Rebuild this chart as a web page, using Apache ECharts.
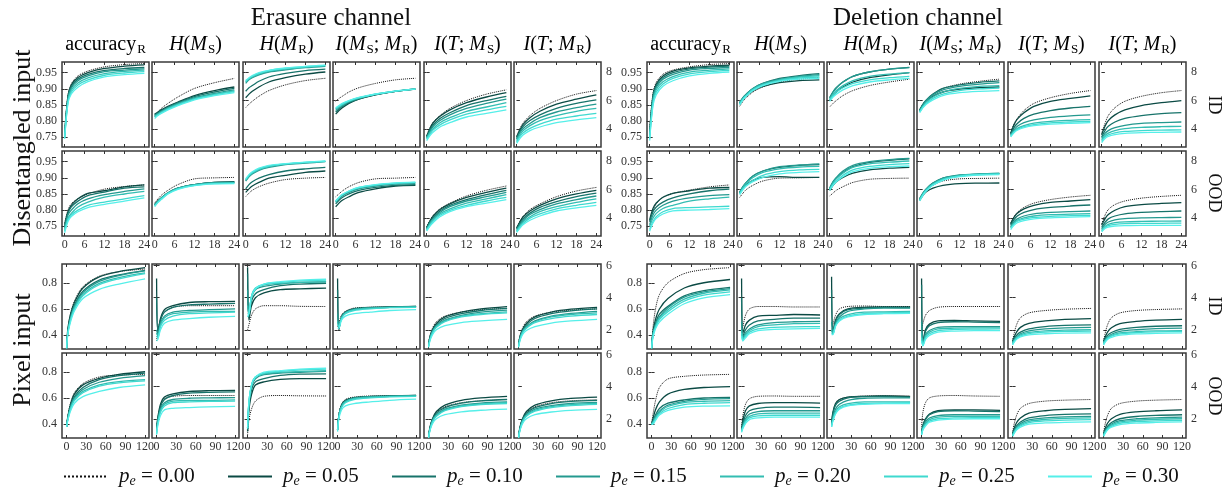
<!DOCTYPE html>
<html>
<head>
<meta charset="utf-8">
<script src="https://cdn.jsdelivr.net/npm/echarts@6/dist/echarts.min.js"></script>
<style>
  html, body { margin: 0; padding: 0; background: #fff; }
  #chart { width: 1227px; height: 490px; }
</style>
</head>
<body>
<div id="chart"></div>
<script>
// x positions of the sampled points
const xDis = [0, 1, 2, 4, 7, 12, 18, 24];
const xPix = [0, 2, 6, 12, 25, 50, 80, 120];
const xTicksDis = [0, 6, 12, 18, 24];
const xTicksPix = [0, 30, 60, 90, 120];

const peNames = ['0.00', '0.05', '0.10', '0.15', '0.20', '0.25', '0.30'];
const colors = ['#111111', '#0b4a44', '#17736a', '#24998f', '#33bdb2', '#3fd9cf', '#55efe9'];

// ---- Erasure, disentangled, ID ----
const era_dis_id_acc = [
  [0.76, 0.88, 0.915, 0.94, 0.955, 0.968, 0.975, 0.978],
  [0.76, 0.878, 0.912, 0.935, 0.95, 0.963, 0.97, 0.974],
  [0.755, 0.874, 0.907, 0.93, 0.945, 0.957, 0.963, 0.966],
  [0.752, 0.87, 0.902, 0.925, 0.94, 0.953, 0.958, 0.962],
  [0.75, 0.865, 0.896, 0.918, 0.934, 0.947, 0.954, 0.958],
  [0.748, 0.86, 0.89, 0.912, 0.928, 0.942, 0.949, 0.953],
  [0.745, 0.855, 0.884, 0.905, 0.922, 0.937, 0.944, 0.948]
];
const era_dis_id_hs = [
  [4.9, 5.2, 5.45, 5.8, 6.25, 6.85, 7.25, 7.55],
  [5.05, 5.2, 5.35, 5.6, 5.9, 6.35, 6.7, 6.95],
  [5.0, 5.15, 5.3, 5.55, 5.85, 6.28, 6.6, 6.85],
  [4.95, 5.1, 5.25, 5.5, 5.8, 6.2, 6.5, 6.75],
  [4.9, 5.05, 5.2, 5.45, 5.75, 6.15, 6.45, 6.68],
  [4.85, 5.0, 5.15, 5.4, 5.7, 6.1, 6.4, 6.62],
  [4.75, 4.95, 5.1, 5.35, 5.65, 6.05, 6.35, 6.56]
];
const era_dis_id_hr = [
  [5.5, 5.75, 5.95, 6.3, 6.7, 7.1, 7.4, 7.56],
  [6.2, 6.45, 6.65, 6.95, 7.3, 7.6, 7.85, 8.0],
  [6.65, 6.9, 7.05, 7.35, 7.65, 7.9, 8.1, 8.2],
  [7.2, 7.45, 7.6, 7.8, 8.0, 8.15, 8.3, 8.4],
  [7.3, 7.5, 7.65, 7.85, 8.05, 8.2, 8.33, 8.43],
  [7.35, 7.55, 7.7, 7.9, 8.1, 8.25, 8.37, 8.46],
  [7.4, 7.6, 7.75, 7.95, 8.12, 8.28, 8.4, 8.48]
];
const era_dis_id_ims = [
  [5.95, 6.15, 6.3, 6.6, 6.9, 7.2, 7.45, 7.56],
  [5.05, 5.3, 5.5, 5.8, 6.1, 6.4, 6.65, 6.8],
  [5.2, 5.4, 5.58, 5.85, 6.12, 6.42, 6.65, 6.8],
  [5.3, 5.48, 5.63, 5.9, 6.15, 6.43, 6.65, 6.82],
  [5.4, 5.55, 5.7, 5.95, 6.18, 6.45, 6.66, 6.8],
  [5.45, 5.6, 5.75, 5.98, 6.2, 6.45, 6.66, 6.8],
  [5.5, 5.65, 5.8, 6.0, 6.22, 6.46, 6.66, 6.8]
];
const era_dis_id_its = [
  [3.55, 4.1, 4.5, 4.95, 5.45, 6.0, 6.45, 6.75],
  [3.5, 4.05, 4.45, 4.9, 5.35, 5.85, 6.25, 6.55],
  [3.45, 3.95, 4.3, 4.75, 5.15, 5.65, 6.0, 6.3],
  [3.4, 3.85, 4.2, 4.6, 5.0, 5.45, 5.8, 6.1],
  [3.35, 3.75, 4.05, 4.45, 4.8, 5.25, 5.55, 5.85],
  [3.3, 3.65, 3.95, 4.3, 4.65, 5.05, 5.35, 5.6],
  [3.2, 3.55, 3.8, 4.15, 4.45, 4.85, 5.1, 5.35]
];
const era_dis_id_itr = [
  [3.5, 4.05, 4.45, 4.95, 5.45, 6.0, 6.45, 6.7],
  [3.45, 3.95, 4.35, 4.8, 5.25, 5.75, 6.1, 6.4],
  [3.35, 3.85, 4.2, 4.6, 5.0, 5.45, 5.8, 6.05],
  [3.3, 3.75, 4.05, 4.4, 4.8, 5.2, 5.5, 5.75],
  [3.2, 3.6, 3.9, 4.25, 4.6, 4.95, 5.25, 5.45],
  [3.1, 3.5, 3.75, 4.05, 4.35, 4.7, 4.92, 5.1],
  [3.0, 3.35, 3.6, 3.9, 4.15, 4.45, 4.65, 4.8]
];

// ---- Erasure, disentangled, OOD ----
const era_dis_ood_acc = [
  [0.76, 0.8, 0.82, 0.835, 0.85, 0.865, 0.873, 0.878],
  [0.755, 0.795, 0.815, 0.835, 0.852, 0.86, 0.872, 0.878],
  [0.75, 0.79, 0.81, 0.828, 0.845, 0.856, 0.868, 0.872],
  [0.745, 0.785, 0.8, 0.82, 0.835, 0.848, 0.858, 0.866],
  [0.74, 0.775, 0.79, 0.81, 0.825, 0.84, 0.85, 0.858],
  [0.735, 0.77, 0.785, 0.8, 0.815, 0.825, 0.835, 0.845],
  [0.73, 0.765, 0.78, 0.795, 0.808, 0.818, 0.828, 0.838]
];
const era_dis_ood_hs = [
  [5.05, 5.35, 5.6, 5.95, 6.35, 6.75, 6.82, 6.85],
  [4.95, 5.2, 5.4, 5.75, 6.1, 6.35, 6.5, 6.55],
  [4.95, 5.2, 5.4, 5.75, 6.1, 6.35, 6.5, 6.52],
  [4.95, 5.2, 5.42, 5.78, 6.1, 6.35, 6.48, 6.5],
  [4.9, 5.15, 5.38, 5.75, 6.08, 6.33, 6.45, 6.48],
  [4.85, 5.12, 5.35, 5.72, 6.05, 6.3, 6.42, 6.45],
  [4.8, 5.1, 5.3, 5.7, 6.02, 6.28, 6.4, 6.42]
];
const era_dis_ood_hr = [
  [5.5, 5.75, 5.95, 6.2, 6.45, 6.7, 6.8, 6.85],
  [5.8, 6.05, 6.25, 6.5, 6.8, 7.0, 7.2, 7.3],
  [6.05, 6.35, 6.55, 6.8, 7.05, 7.3, 7.45, 7.55],
  [6.6, 6.9, 7.1, 7.35, 7.55, 7.75, 7.85, 7.95],
  [6.65, 6.95, 7.15, 7.4, 7.6, 7.78, 7.88, 7.97],
  [6.7, 7.0, 7.2, 7.45, 7.65, 7.8, 7.9, 7.98],
  [6.75, 7.05, 7.25, 7.5, 7.7, 7.82, 7.92, 8.0]
];
const era_dis_ood_ims = [
  [5.5, 5.7, 5.9, 6.2, 6.5, 6.75, 6.8, 6.85],
  [4.8, 5.05, 5.25, 5.5, 5.8, 6.05, 6.25, 6.3],
  [5.0, 5.25, 5.45, 5.7, 5.95, 6.15, 6.3, 6.35],
  [5.1, 5.35, 5.55, 5.8, 6.05, 6.25, 6.38, 6.42],
  [5.15, 5.4, 5.6, 5.85, 6.1, 6.3, 6.42, 6.48],
  [5.2, 5.45, 5.65, 5.9, 6.15, 6.33, 6.45, 6.5],
  [5.2, 5.45, 5.65, 5.9, 6.15, 6.35, 6.47, 6.52]
];
const era_dis_ood_its = [
  [3.4, 3.85, 4.2, 4.65, 5.05, 5.55, 5.95, 6.25],
  [3.35, 3.8, 4.15, 4.6, 5.0, 5.45, 5.8, 6.1],
  [3.3, 3.75, 4.05, 4.5, 4.9, 5.3, 5.65, 5.95],
  [3.25, 3.65, 3.95, 4.4, 4.8, 5.2, 5.5, 5.8],
  [3.2, 3.6, 3.9, 4.3, 4.65, 5.05, 5.35, 5.65],
  [3.15, 3.5, 3.8, 4.2, 4.55, 4.9, 5.2, 5.45],
  [3.1, 3.45, 3.7, 4.1, 4.45, 4.8, 5.05, 5.3]
];
const era_dis_ood_itr = [
  [3.35, 3.8, 4.15, 4.6, 5.0, 5.5, 5.9, 6.15],
  [3.3, 3.75, 4.1, 4.5, 4.9, 5.35, 5.7, 5.95],
  [3.25, 3.65, 3.95, 4.35, 4.75, 5.15, 5.5, 5.75],
  [3.2, 3.55, 3.85, 4.25, 4.6, 5.0, 5.3, 5.55],
  [3.1, 3.45, 3.75, 4.1, 4.45, 4.8, 5.1, 5.35],
  [3.05, 3.4, 3.65, 4.0, 4.3, 4.65, 4.9, 5.1],
  [3.0, 3.3, 3.55, 3.85, 4.15, 4.5, 4.72, 4.9]
];

// ---- Erasure, pixel, ID ----
const era_pix_id_acc = [
  [0.3, 0.44, 0.56, 0.66, 0.77, 0.85, 0.885, 0.905],
  [0.3, 0.45, 0.56, 0.65, 0.76, 0.845, 0.885, 0.915],
  [0.3, 0.43, 0.54, 0.63, 0.735, 0.82, 0.86, 0.895],
  [0.3, 0.43, 0.53, 0.62, 0.725, 0.81, 0.855, 0.89],
  [0.3, 0.42, 0.52, 0.61, 0.71, 0.795, 0.84, 0.875],
  [0.3, 0.42, 0.515, 0.6, 0.70, 0.785, 0.83, 0.87],
  [0.3, 0.41, 0.5, 0.585, 0.68, 0.75, 0.79, 0.83]
];
const era_pix_id_hs = [
  [1.3, 1.9, 2.6, 3.1, 3.4, 3.5, 3.5, 3.5],
  [5.2, 1.8, 2.7, 3.25, 3.5, 3.7, 3.75, 3.77],
  [4.0, 1.9, 2.6, 3.1, 3.4, 3.55, 3.6, 3.65],
  [2.0, 1.7, 2.4, 2.85, 3.1, 3.2, 3.25, 3.3],
  [1.8, 1.6, 2.3, 2.75, 3.0, 3.1, 3.15, 3.15],
  [1.6, 1.5, 2.2, 2.6, 2.85, 3.0, 3.05, 3.1],
  [1.3, 1.4, 2.0, 2.4, 2.6, 2.7, 2.78, 2.83]
];
const era_pix_id_hr = [
  [2.0, 2.3, 2.9, 3.3, 3.5, 3.5, 3.46, 3.45],
  [5.9, 2.6, 3.5, 4.0, 4.3, 4.5, 4.55, 4.6],
  [5.5, 2.8, 3.8, 4.25, 4.5, 4.75, 4.85, 4.9],
  [4.5, 3.0, 4.0, 4.5, 4.7, 4.85, 4.95, 4.98],
  [3.5, 3.0, 4.1, 4.55, 4.8, 4.9, 4.95, 5.0],
  [3.0, 3.0, 4.1, 4.6, 4.85, 4.95, 5.05, 5.1],
  [2.8, 3.0, 4.05, 4.55, 4.85, 5.0, 5.1, 5.15]
];
const era_pix_id_ims = [
  [2.2, 2.4, 2.9, 3.15, 3.35, 3.4, 3.42, 3.45],
  [5.2, 2.0, 2.8, 3.1, 3.3, 3.4, 3.42, 3.45],
  [4.5, 2.1, 2.8, 3.1, 3.3, 3.38, 3.42, 3.45],
  [3.0, 2.1, 2.75, 3.05, 3.25, 3.35, 3.4, 3.42],
  [2.5, 2.2, 2.75, 3.05, 3.25, 3.35, 3.4, 3.42],
  [2.3, 2.2, 2.7, 3.0, 3.2, 3.3, 3.38, 3.4],
  [2.1, 2.1, 2.6, 2.85, 3.0, 3.1, 3.2, 3.25]
];
const era_pix_id_its = [
  [1.1, 1.6, 2.1, 2.5, 2.85, 3.1, 3.25, 3.33],
  [1.05, 1.55, 2.0, 2.4, 2.8, 3.1, 3.3, 3.44],
  [1.05, 1.5, 1.95, 2.3, 2.7, 3.0, 3.2, 3.33],
  [1.0, 1.45, 1.9, 2.25, 2.6, 2.9, 3.1, 3.22],
  [1.0, 1.4, 1.85, 2.2, 2.55, 2.85, 3.0, 3.12],
  [0.95, 1.35, 1.8, 2.15, 2.5, 2.8, 2.95, 3.05],
  [0.9, 1.3, 1.7, 2.0, 2.25, 2.45, 2.55, 2.65]
];
const era_pix_id_itr = [
  [1.1, 1.6, 2.1, 2.5, 2.85, 3.1, 3.22, 3.3],
  [1.05, 1.55, 2.0, 2.4, 2.8, 3.1, 3.28, 3.4],
  [1.05, 1.5, 1.95, 2.3, 2.7, 3.0, 3.18, 3.3],
  [1.0, 1.45, 1.9, 2.2, 2.55, 2.85, 3.02, 3.15],
  [1.0, 1.4, 1.85, 2.15, 2.5, 2.8, 2.95, 3.05],
  [0.95, 1.35, 1.8, 2.1, 2.45, 2.7, 2.85, 2.95],
  [0.9, 1.3, 1.7, 1.95, 2.2, 2.42, 2.55, 2.65]
];

// ---- Erasure, pixel, OOD ----
const era_pix_ood_acc = [
  [0.38, 0.46, 0.56, 0.64, 0.71, 0.76, 0.775, 0.78],
  [0.38, 0.46, 0.55, 0.63, 0.70, 0.75, 0.78, 0.80],
  [0.38, 0.45, 0.54, 0.61, 0.68, 0.74, 0.77, 0.79],
  [0.38, 0.45, 0.53, 0.60, 0.665, 0.72, 0.75, 0.77],
  [0.38, 0.44, 0.52, 0.59, 0.65, 0.70, 0.725, 0.74],
  [0.38, 0.44, 0.515, 0.58, 0.64, 0.69, 0.715, 0.73],
  [0.38, 0.43, 0.50, 0.56, 0.61, 0.65, 0.68, 0.70]
];
const era_pix_ood_hs = [
  [1.3, 2.0, 2.8, 3.25, 3.4, 3.45, 3.45, 3.45],
  [1.4, 2.1, 2.9, 3.35, 3.55, 3.7, 3.75, 3.77],
  [1.3, 2.0, 2.75, 3.2, 3.45, 3.6, 3.65, 3.67],
  [1.2, 1.9, 2.6, 3.0, 3.2, 3.28, 3.3, 3.32],
  [1.1, 1.8, 2.5, 2.9, 3.1, 3.15, 3.15, 3.18],
  [1.05, 1.75, 2.4, 2.8, 3.0, 3.05, 3.08, 3.1],
  [1.0, 1.6, 2.2, 2.55, 2.65, 2.7, 2.74, 2.77]
];
const era_pix_ood_hr = [
  [1.0, 1.9, 2.6, 3.1, 3.4, 3.45, 3.43, 3.42],
  [1.2, 2.5, 3.5, 4.1, 4.3, 4.45, 4.5, 4.5],
  [1.3, 2.7, 3.8, 4.3, 4.5, 4.7, 4.78, 4.8],
  [1.4, 2.9, 4.0, 4.5, 4.75, 4.85, 4.9, 4.95],
  [1.4, 3.0, 4.1, 4.6, 4.8, 4.9, 4.95, 5.0],
  [1.4, 3.0, 4.1, 4.6, 4.85, 4.95, 5.05, 5.1],
  [1.4, 3.0, 4.1, 4.6, 4.9, 5.0, 5.1, 5.15]
];
const era_pix_ood_ims = [
  [1.5, 2.3, 2.9, 3.2, 3.35, 3.42, 3.43, 3.45],
  [1.3, 2.2, 2.85, 3.15, 3.3, 3.4, 3.42, 3.45],
  [1.3, 2.2, 2.8, 3.1, 3.3, 3.38, 3.42, 3.45],
  [1.3, 2.2, 2.8, 3.1, 3.28, 3.36, 3.4, 3.42],
  [1.3, 2.15, 2.75, 3.05, 3.25, 3.35, 3.4, 3.42],
  [1.3, 2.1, 2.7, 3.0, 3.2, 3.3, 3.36, 3.4],
  [1.2, 2.0, 2.55, 2.8, 2.95, 3.05, 3.15, 3.22]
];
const era_pix_ood_its = [
  [0.9, 1.45, 2.0, 2.4, 2.75, 3.0, 3.12, 3.2],
  [0.9, 1.45, 2.0, 2.45, 2.85, 3.15, 3.3, 3.4],
  [0.9, 1.4, 1.95, 2.35, 2.7, 2.98, 3.12, 3.2],
  [0.85, 1.35, 1.9, 2.25, 2.6, 2.85, 2.98, 3.05],
  [0.85, 1.3, 1.85, 2.2, 2.55, 2.8, 2.92, 3.0],
  [0.85, 1.3, 1.8, 2.15, 2.5, 2.75, 2.88, 2.95],
  [0.8, 1.25, 1.7, 2.0, 2.25, 2.43, 2.53, 2.6]
];
const era_pix_ood_itr = [
  [0.9, 1.45, 2.0, 2.4, 2.75, 3.0, 3.12, 3.18],
  [0.9, 1.45, 2.0, 2.45, 2.85, 3.12, 3.27, 3.35],
  [0.9, 1.4, 1.95, 2.35, 2.7, 2.95, 3.08, 3.15],
  [0.85, 1.35, 1.9, 2.25, 2.6, 2.82, 2.95, 3.02],
  [0.85, 1.3, 1.85, 2.2, 2.52, 2.75, 2.88, 2.95],
  [0.85, 1.3, 1.8, 2.15, 2.47, 2.7, 2.82, 2.9],
  [0.8, 1.25, 1.7, 2.0, 2.25, 2.42, 2.52, 2.58]
];

// ---- Deletion, disentangled, ID ----
const del_dis_id_acc = [
  [0.77, 0.885, 0.92, 0.945, 0.958, 0.968, 0.975, 0.978],
  [0.765, 0.88, 0.915, 0.94, 0.955, 0.965, 0.97, 0.973],
  [0.76, 0.875, 0.91, 0.935, 0.95, 0.962, 0.967, 0.97],
  [0.755, 0.87, 0.905, 0.93, 0.945, 0.958, 0.963, 0.966],
  [0.75, 0.862, 0.898, 0.922, 0.938, 0.952, 0.958, 0.962],
  [0.745, 0.855, 0.89, 0.915, 0.932, 0.946, 0.953, 0.957],
  [0.74, 0.848, 0.882, 0.908, 0.925, 0.94, 0.948, 0.952]
];
const del_dis_id_hs = [
  [5.6, 5.95, 6.2, 6.6, 6.95, 7.3, 7.5, 7.6],
  [5.8, 6.1, 6.35, 6.7, 7.0, 7.25, 7.4, 7.45],
  [5.85, 6.2, 6.45, 6.85, 7.2, 7.55, 7.75, 7.88],
  [5.85, 6.2, 6.45, 6.85, 7.2, 7.5, 7.7, 7.82],
  [5.8, 6.15, 6.4, 6.8, 7.15, 7.45, 7.65, 7.75],
  [5.75, 6.1, 6.35, 6.75, 7.1, 7.4, 7.58, 7.65],
  [5.7, 6.05, 6.3, 6.7, 7.05, 7.35, 7.5, 7.55]
];
const del_dis_id_hr = [
  [5.55, 5.8, 6.0, 6.35, 6.7, 7.05, 7.3, 7.5],
  [6.0, 6.35, 6.6, 6.95, 7.3, 7.6, 7.8, 7.95],
  [6.2, 6.6, 6.9, 7.3, 7.7, 8.0, 8.2, 8.33],
  [6.2, 6.6, 6.9, 7.3, 7.7, 8.0, 8.2, 8.3],
  [6.1, 6.45, 6.7, 7.05, 7.4, 7.7, 7.85, 7.95],
  [6.05, 6.35, 6.6, 6.9, 7.2, 7.45, 7.6, 7.7],
  [5.95, 6.25, 6.45, 6.75, 7.05, 7.3, 7.45, 7.55]
];
const del_dis_id_ims = [
  [5.35, 5.75, 6.05, 6.45, 6.85, 7.15, 7.35, 7.5],
  [5.3, 5.7, 5.95, 6.3, 6.6, 6.8, 6.9, 6.95],
  [5.35, 5.75, 6.05, 6.45, 6.85, 7.1, 7.28, 7.38],
  [5.3, 5.7, 6.0, 6.4, 6.75, 7.0, 7.15, 7.25],
  [5.25, 5.6, 5.9, 6.25, 6.6, 6.85, 7.0, 7.05],
  [5.2, 5.55, 5.8, 6.15, 6.45, 6.7, 6.82, 6.88],
  [5.15, 5.5, 5.75, 6.05, 6.35, 6.55, 6.65, 6.7]
];
const del_dis_id_its = [
  [3.75, 4.35, 4.75, 5.3, 5.8, 6.2, 6.5, 6.7],
  [3.7, 4.3, 4.7, 5.15, 5.6, 5.95, 6.15, 6.33],
  [3.65, 4.1, 4.4, 4.75, 5.05, 5.3, 5.48, 5.6],
  [3.6, 3.95, 4.2, 4.45, 4.65, 4.82, 4.93, 5.0],
  [3.55, 3.85, 4.05, 4.25, 4.42, 4.55, 4.62, 4.67],
  [3.5, 3.8, 3.98, 4.17, 4.32, 4.44, 4.5, 4.55],
  [3.45, 3.75, 3.92, 4.1, 4.24, 4.35, 4.41, 4.45]
];
const del_dis_id_itr = [
  [3.7, 4.4, 4.95, 5.5, 5.95, 6.3, 6.55, 6.7],
  [3.6, 4.2, 4.6, 5.0, 5.35, 5.65, 5.85, 6.0],
  [3.45, 3.9, 4.2, 4.5, 4.75, 4.95, 5.08, 5.15],
  [3.35, 3.7, 3.9, 4.1, 4.27, 4.4, 4.46, 4.5],
  [3.25, 3.55, 3.72, 3.9, 4.03, 4.12, 4.17, 4.2],
  [3.15, 3.45, 3.6, 3.74, 3.84, 3.9, 3.93, 3.95],
  [3.05, 3.35, 3.5, 3.62, 3.7, 3.75, 3.78, 3.8]
];

// ---- Deletion, disentangled, OOD ----
const del_dis_ood_acc = [
  [0.765, 0.8, 0.82, 0.84, 0.852, 0.862, 0.872, 0.878],
  [0.77, 0.805, 0.822, 0.84, 0.852, 0.86, 0.868, 0.87],
  [0.765, 0.795, 0.81, 0.825, 0.838, 0.85, 0.86, 0.865],
  [0.755, 0.785, 0.8, 0.815, 0.828, 0.838, 0.845, 0.848],
  [0.75, 0.775, 0.79, 0.805, 0.815, 0.828, 0.835, 0.84],
  [0.74, 0.765, 0.78, 0.795, 0.805, 0.808, 0.81, 0.812],
  [0.735, 0.76, 0.775, 0.788, 0.798, 0.8, 0.802, 0.805]
];
const del_dis_ood_hs = [
  [5.45, 5.75, 6.0, 6.3, 6.6, 6.8, 6.82, 6.85],
  [5.75, 6.1, 6.35, 6.65, 6.85, 6.9, 6.85, 6.85],
  [5.8, 6.2, 6.5, 6.95, 7.3, 7.55, 7.7, 7.75],
  [5.8, 6.2, 6.5, 6.95, 7.3, 7.6, 7.72, 7.8],
  [5.75, 6.15, 6.45, 6.85, 7.2, 7.45, 7.58, 7.62],
  [5.7, 6.05, 6.3, 6.65, 7.0, 7.25, 7.38, 7.42],
  [5.65, 6.0, 6.25, 6.55, 6.85, 7.1, 7.2, 7.25]
];
const del_dis_ood_hr = [
  [5.55, 5.75, 5.95, 6.2, 6.5, 6.72, 6.78, 6.8],
  [5.95, 6.3, 6.55, 6.85, 7.15, 7.38, 7.5, 7.56],
  [6.05, 6.5, 6.8, 7.2, 7.6, 7.9, 8.05, 8.15],
  [6.1, 6.55, 6.85, 7.3, 7.7, 7.95, 8.1, 8.18],
  [6.05, 6.45, 6.75, 7.15, 7.55, 7.8, 7.92, 8.0],
  [6.0, 6.35, 6.6, 7.0, 7.38, 7.62, 7.75, 7.82],
  [5.95, 6.3, 6.55, 6.9, 7.25, 7.48, 7.6, 7.65]
];
const del_dis_ood_ims = [
  [5.3, 5.7, 5.95, 6.3, 6.6, 6.75, 6.78, 6.8],
  [5.25, 5.6, 5.85, 6.1, 6.3, 6.42, 6.45, 6.46],
  [5.35, 5.75, 6.05, 6.45, 6.8, 7.0, 7.08, 7.12],
  [5.35, 5.75, 6.05, 6.45, 6.8, 7.02, 7.1, 7.15],
  [5.3, 5.7, 6.0, 6.4, 6.75, 6.98, 7.08, 7.12],
  [5.25, 5.65, 5.95, 6.35, 6.7, 6.95, 7.05, 7.1],
  [5.2, 5.6, 5.9, 6.3, 6.65, 6.9, 7.02, 7.05]
];
const del_dis_ood_its = [
  [3.65, 4.1, 4.4, 4.75, 5.05, 5.3, 5.48, 5.6],
  [3.6, 4.05, 4.35, 4.65, 4.9, 5.1, 5.2, 5.3],
  [3.5, 3.9, 4.15, 4.4, 4.6, 4.75, 4.85, 4.92],
  [3.4, 3.75, 3.95, 4.15, 4.3, 4.4, 4.46, 4.5],
  [3.35, 3.65, 3.85, 4.02, 4.15, 4.24, 4.28, 4.32],
  [3.3, 3.6, 3.78, 3.93, 4.05, 4.12, 4.17, 4.2],
  [3.2, 3.5, 3.68, 3.83, 3.95, 4.02, 4.07, 4.1]
];
const del_dis_ood_itr = [
  [3.6, 4.2, 4.6, 4.95, 5.2, 5.4, 5.52, 5.6],
  [3.5, 3.95, 4.25, 4.55, 4.8, 4.95, 5.03, 5.08],
  [3.35, 3.7, 3.95, 4.15, 4.3, 4.4, 4.46, 4.5],
  [3.25, 3.55, 3.73, 3.88, 3.97, 4.02, 4.04, 4.05],
  [3.15, 3.42, 3.57, 3.68, 3.74, 3.77, 3.79, 3.8],
  [3.1, 3.35, 3.47, 3.56, 3.61, 3.63, 3.64, 3.65],
  [3.05, 3.27, 3.38, 3.45, 3.48, 3.5, 3.5, 3.5]
];

// ---- Deletion, pixel, ID ----
const del_pix_id_acc = [
  [0.3, 0.45, 0.6, 0.71, 0.8, 0.87, 0.9, 0.915],
  [0.3, 0.42, 0.52, 0.6, 0.68, 0.76, 0.8, 0.825],
  [0.3, 0.41, 0.49, 0.56, 0.62, 0.7, 0.74, 0.765],
  [0.3, 0.4, 0.48, 0.54, 0.61, 0.69, 0.73, 0.755],
  [0.3, 0.4, 0.47, 0.53, 0.595, 0.675, 0.72, 0.745],
  [0.3, 0.39, 0.46, 0.52, 0.58, 0.66, 0.705, 0.73],
  [0.3, 0.38, 0.45, 0.5, 0.56, 0.64, 0.685, 0.71]
];
const del_pix_id_hs = [
  [2.0, 2.2, 2.9, 3.3, 3.45, 3.45, 3.42, 3.42],
  [5.2, 1.8, 2.3, 2.6, 2.85, 2.9, 2.95, 2.92],
  [4.0, 1.6, 2.0, 2.3, 2.55, 2.65, 2.72, 2.72],
  [2.5, 1.5, 1.8, 2.05, 2.3, 2.45, 2.5, 2.52],
  [2.0, 1.4, 1.7, 1.95, 2.2, 2.3, 2.38, 2.4],
  [1.8, 1.35, 1.6, 1.85, 2.05, 2.15, 2.18, 2.2],
  [1.6, 1.3, 1.5, 1.75, 1.95, 2.02, 2.06, 2.08]
];
const del_pix_id_hr = [
  [1.9, 2.3, 2.9, 3.3, 3.45, 3.48, 3.45, 3.45],
  [5.3, 1.8, 2.6, 3.0, 3.3, 3.4, 3.42, 3.42],
  [4.5, 1.8, 2.5, 2.95, 3.25, 3.35, 3.4, 3.38],
  [2.5, 1.8, 2.4, 2.8, 3.15, 3.3, 3.35, 3.35],
  [2.0, 1.75, 2.3, 2.7, 2.95, 3.1, 3.12, 3.15],
  [1.8, 1.75, 2.25, 2.6, 2.85, 3.0, 3.05, 3.08],
  [1.7, 1.7, 2.2, 2.55, 2.8, 2.95, 3.0, 3.02]
];
const del_pix_id_ims = [
  [2.1, 2.4, 2.9, 3.2, 3.4, 3.45, 3.45, 3.45],
  [5.2, 1.2, 2.0, 2.35, 2.55, 2.58, 2.55, 2.52],
  [4.8, 1.1, 1.9, 2.25, 2.45, 2.5, 2.48, 2.45],
  [2.5, 1.1, 1.7, 1.95, 2.15, 2.2, 2.2, 2.2],
  [1.8, 1.05, 1.6, 1.85, 2.05, 2.1, 2.12, 2.12],
  [1.5, 1.0, 1.5, 1.75, 1.95, 2.02, 2.04, 2.05],
  [1.3, 1.0, 1.4, 1.65, 1.85, 1.92, 1.95, 1.95]
];
const del_pix_id_its = [
  [1.3, 1.7, 2.3, 2.75, 3.05, 3.2, 3.28, 3.33],
  [1.3, 1.5, 1.85, 2.15, 2.4, 2.55, 2.65, 2.7],
  [1.25, 1.4, 1.65, 1.85, 2.05, 2.2, 2.27, 2.3],
  [1.2, 1.35, 1.55, 1.75, 1.93, 2.05, 2.12, 2.15],
  [1.15, 1.3, 1.5, 1.68, 1.83, 1.93, 1.98, 2.0],
  [1.1, 1.25, 1.45, 1.62, 1.76, 1.85, 1.9, 1.92],
  [1.05, 1.2, 1.4, 1.55, 1.68, 1.75, 1.79, 1.8]
];
const del_pix_id_itr = [
  [1.3, 1.7, 2.3, 2.75, 3.05, 3.2, 3.26, 3.3],
  [1.3, 1.5, 1.85, 2.12, 2.38, 2.52, 2.6, 2.65],
  [1.25, 1.4, 1.65, 1.83, 2.02, 2.15, 2.22, 2.25],
  [1.2, 1.35, 1.55, 1.72, 1.9, 2.0, 2.07, 2.1],
  [1.15, 1.3, 1.5, 1.65, 1.8, 1.88, 1.93, 1.95],
  [1.1, 1.25, 1.45, 1.6, 1.74, 1.82, 1.87, 1.9],
  [1.05, 1.2, 1.4, 1.53, 1.66, 1.74, 1.78, 1.8]
];

// ---- Deletion, pixel, OOD ----
const del_pix_ood_acc = [
  [0.4, 0.47, 0.58, 0.68, 0.745, 0.765, 0.775, 0.78],
  [0.4, 0.44, 0.51, 0.57, 0.63, 0.665, 0.68, 0.687],
  [0.4, 0.42, 0.47, 0.52, 0.56, 0.585, 0.6, 0.605],
  [0.4, 0.42, 0.46, 0.5, 0.545, 0.575, 0.59, 0.595],
  [0.4, 0.41, 0.45, 0.49, 0.535, 0.565, 0.575, 0.58],
  [0.4, 0.41, 0.44, 0.48, 0.52, 0.55, 0.56, 0.565],
  [0.4, 0.4, 0.43, 0.47, 0.505, 0.53, 0.538, 0.54]
];
const del_pix_ood_hs = [
  [1.5, 2.2, 2.9, 3.25, 3.4, 3.42, 3.4, 3.4],
  [1.4, 1.9, 2.5, 2.8, 2.95, 3.0, 3.0, 2.98],
  [1.3, 1.7, 2.2, 2.5, 2.65, 2.72, 2.72, 2.7],
  [1.3, 1.6, 2.0, 2.3, 2.45, 2.5, 2.5, 2.5],
  [1.25, 1.5, 1.9, 2.15, 2.3, 2.35, 2.35, 2.35],
  [1.2, 1.45, 1.8, 2.05, 2.18, 2.22, 2.22, 2.22],
  [1.15, 1.4, 1.7, 1.95, 2.05, 2.1, 2.1, 2.1]
];
const del_pix_ood_hr = [
  [1.6, 2.3, 2.9, 3.2, 3.35, 3.42, 3.45, 3.42],
  [1.7, 2.4, 2.95, 3.2, 3.35, 3.4, 3.42, 3.38],
  [1.7, 2.3, 2.85, 3.1, 3.3, 3.38, 3.4, 3.35],
  [1.6, 2.1, 2.6, 2.9, 3.15, 3.28, 3.3, 3.3],
  [1.6, 2.0, 2.45, 2.75, 2.95, 3.05, 3.05, 3.05],
  [1.5, 1.9, 2.35, 2.65, 2.85, 2.95, 2.98, 3.0],
  [1.5, 1.85, 2.3, 2.6, 2.8, 2.9, 2.95, 2.95]
];
const del_pix_ood_ims = [
  [1.5, 2.4, 3.0, 3.3, 3.42, 3.45, 3.42, 3.4],
  [1.2, 1.6, 2.0, 2.3, 2.5, 2.55, 2.55, 2.52],
  [1.15, 1.55, 1.95, 2.25, 2.45, 2.5, 2.48, 2.45],
  [1.1, 1.45, 1.8, 2.05, 2.2, 2.25, 2.25, 2.25],
  [1.05, 1.4, 1.7, 1.95, 2.1, 2.15, 2.15, 2.15],
  [1.0, 1.35, 1.6, 1.85, 2.0, 2.05, 2.07, 2.08],
  [1.0, 1.3, 1.55, 1.78, 1.92, 1.98, 2.0, 2.0]
];
const del_pix_ood_its = [
  [1.1, 1.6, 2.2, 2.65, 2.95, 3.1, 3.16, 3.2],
  [1.05, 1.35, 1.75, 2.05, 2.35, 2.5, 2.58, 2.63],
  [1.0, 1.25, 1.55, 1.8, 2.05, 2.2, 2.27, 2.3],
  [1.0, 1.2, 1.48, 1.7, 1.93, 2.06, 2.12, 2.15],
  [0.95, 1.15, 1.42, 1.62, 1.84, 1.96, 2.02, 2.05],
  [0.95, 1.1, 1.36, 1.56, 1.76, 1.87, 1.92, 1.95],
  [0.9, 1.05, 1.3, 1.48, 1.66, 1.74, 1.78, 1.8]
];
const del_pix_ood_itr = [
  [1.1, 1.6, 2.2, 2.65, 2.95, 3.1, 3.16, 3.2],
  [1.05, 1.35, 1.72, 2.0, 2.28, 2.43, 2.5, 2.55],
  [1.0, 1.25, 1.52, 1.77, 2.0, 2.14, 2.21, 2.25],
  [1.0, 1.2, 1.45, 1.67, 1.88, 2.0, 2.06, 2.1],
  [0.95, 1.15, 1.4, 1.6, 1.8, 1.91, 1.97, 2.0],
  [0.95, 1.1, 1.35, 1.53, 1.72, 1.82, 1.87, 1.9],
  [0.9, 1.05, 1.3, 1.47, 1.64, 1.73, 1.77, 1.8]
];

// rows: disentangled ID, disentangled OOD, pixel ID, pixel OOD
const panelData = [
  [
    [era_dis_id_acc, era_dis_id_hs, era_dis_id_hr, era_dis_id_ims, era_dis_id_its, era_dis_id_itr],
    [era_dis_ood_acc, era_dis_ood_hs, era_dis_ood_hr, era_dis_ood_ims, era_dis_ood_its, era_dis_ood_itr],
    [era_pix_id_acc, era_pix_id_hs, era_pix_id_hr, era_pix_id_ims, era_pix_id_its, era_pix_id_itr],
    [era_pix_ood_acc, era_pix_ood_hs, era_pix_ood_hr, era_pix_ood_ims, era_pix_ood_its, era_pix_ood_itr]
  ],
  [
    [del_dis_id_acc, del_dis_id_hs, del_dis_id_hr, del_dis_id_ims, del_dis_id_its, del_dis_id_itr],
    [del_dis_ood_acc, del_dis_ood_hs, del_dis_ood_hr, del_dis_ood_ims, del_dis_ood_its, del_dis_ood_itr],
    [del_pix_id_acc, del_pix_id_hs, del_pix_id_hr, del_pix_id_ims, del_pix_id_its, del_pix_id_itr],
    [del_pix_ood_acc, del_pix_ood_hs, del_pix_ood_hr, del_pix_ood_ims, del_pix_ood_its, del_pix_ood_itr]
  ]
];

const colTitles = [
  '{r|accuracy}{s|R}',
  '{i|H}{r|(}{i|M}{s|S}{r|)}',
  '{i|H}{r|(}{i|M}{s|R}{r|)}',
  '{i|I}{r|(}{i|M}{s|S}{r|; }{i|M}{s|R}{r|)}',
  '{i|I}{r|(}{i|T}{r|; }{i|M}{s|S}{r|)}',
  '{i|I}{r|(}{i|T}{r|; }{i|M}{s|R}{r|)}'
];

// layout
const colLeft = [[62, 152, 243, 333, 424, 514], [647, 737, 827, 917, 1008, 1099]];
const rowTop = [62, 151, 264, 353];
const panelW = 87, panelH = 85;

const FONT = "'Liberation Serif', 'DejaVu Serif', serif";
const ink = '#333';

function yConf(r, k) {
  const pix = r >= 2;
  if (k === 0) {
    return pix
      ? { min: 0.295, max: 0.943, ticks: [0.4, 0.6, 0.8], fmt: v => v.toFixed(1) }
      : { min: 0.72, max: 0.983, ticks: [0.75, 0.8, 0.85, 0.9, 0.95], fmt: v => v.toFixed(2) };
  }
  return pix
    ? { min: 0.8, max: 6.1, ticks: [2, 4, 6], fmt: v => String(v) }
    : { min: 2.75, max: 8.7, ticks: [4, 6, 8], fmt: v => String(v) };
}

const grids = [], xAxes = [], yAxes = [], series = [];

panelData.forEach((rows, c) => {
  rows.forEach((cols, r) => {
    const pix = r >= 2;
    const xs = pix ? xPix : xDis;
    const xMin = pix ? -7 : -0.8, xMax = pix ? 126 : 25.4;
    const xt = pix ? xTicksPix : xTicksDis;
    cols.forEach((vals, k) => {
      const g = grids.length;
      grids.push({
        left: colLeft[c][k], top: rowTop[r], width: panelW, height: panelH,
        show: true, borderColor: '#3a3a3a', borderWidth: 1.5, backgroundColor: 'transparent'
      });
      const tick = { show: true, inside: true, length: 3, customValues: xt, lineStyle: { color: ink, width: 1 } };
      xAxes.push({
        type: 'value', gridIndex: g, position: 'bottom', min: xMin, max: xMax,
        axisLine: { show: false }, splitLine: { show: false }, axisTick: tick,
        axisLabel: {
          show: r === 1 || r === 3, customValues: xt, margin: 3,
          color: ink, fontFamily: FONT, fontSize: 12
        }
      });
      xAxes.push({
        type: 'value', gridIndex: g, position: 'top', min: xMin, max: xMax,
        axisLine: { show: false }, splitLine: { show: false }, axisTick: tick,
        axisLabel: { show: false }
      });
      const yc = yConf(r, k);
      const ytick = { show: true, inside: true, length: 3, customValues: yc.ticks, lineStyle: { color: ink, width: 1 } };
      yAxes.push({
        type: 'value', gridIndex: g, position: 'left', min: yc.min, max: yc.max,
        axisLine: { show: false }, splitLine: { show: false }, axisTick: ytick,
        axisLabel: {
          show: k === 0, customValues: yc.ticks, formatter: yc.fmt, margin: 5,
          color: ink, fontFamily: FONT, fontSize: 12
        }
      });
      const lastCol = k === 5;
      yAxes.push({
        type: 'value', gridIndex: g, position: 'right', min: yc.min, max: yc.max,
        axisLine: { show: false }, splitLine: { show: false },
        axisTick: Object.assign({}, ytick, { inside: !lastCol }),
        axisLabel: {
          show: lastCol, customValues: yc.ticks, formatter: yc.fmt, margin: 5,
          color: ink, fontFamily: FONT, fontSize: 12
        }
      });
      vals.forEach((ys, s) => {
        series.push({
          type: 'line', name: peNames[s],
          xAxisIndex: 2 * g, yAxisIndex: 2 * g,
          data: xs.map((x, i) => [x, ys[i]]),
          symbol: 'none', showSymbol: false, smooth: 0.3, silent: true,
          lineStyle: { color: colors[s], width: s === 0 ? 1 : 1.3, type: s === 0 ? 'dotted' : 'solid' },
          itemStyle: { color: colors[s] }
        });
      });
    });
  });
});

const graphics = [];
graphics.push({ type: 'text', x: 331, y: 18, style: { text: 'Erasure channel', font: '25px ' + FONT, fill: '#111', align: 'center', verticalAlign: 'middle' } });
graphics.push({ type: 'text', x: 918, y: 18, style: { text: 'Deletion channel', font: '25px ' + FONT, fill: '#111', align: 'center', verticalAlign: 'middle' } });

const titleRich = {
  r: { fontFamily: FONT, fontSize: 20, color: '#111' },
  i: { fontFamily: FONT, fontSize: 20, fontStyle: 'italic', color: '#111' },
  s: { fontFamily: FONT, fontSize: 13, color: '#111', padding: [10, 0, 0, 1] }
};
colLeft.forEach(lefts => {
  lefts.forEach((l, k) => {
    graphics.push({
      type: 'text', x: l + panelW / 2, y: 45,
      style: { text: colTitles[k], rich: titleRich, align: 'center', verticalAlign: 'middle' }
    });
  });
});

graphics.push({ type: 'text', x: 23, y: 148, rotation: Math.PI / 2, style: { text: 'Disentangled input', font: '26px ' + FONT, fill: '#111', align: 'center', verticalAlign: 'middle' } });
graphics.push({ type: 'text', x: 23, y: 350, rotation: Math.PI / 2, style: { text: 'Pixel input', font: '26px ' + FONT, fill: '#111', align: 'center', verticalAlign: 'middle' } });
const sideLabels = [['ID', 105], ['OOD', 193], ['ID', 306], ['OOD', 396]];
sideLabels.forEach(([t, y]) => {
  graphics.push({ type: 'text', x: 1214, y: y, rotation: -Math.PI / 2, style: { text: t, font: '18px ' + FONT, fill: '#111', align: 'center', verticalAlign: 'middle' } });
});

const legendRich = {
  p: { fontFamily: FONT, fontSize: 21, fontStyle: 'italic', color: '#111' },
  e: { fontFamily: FONT, fontSize: 14, fontStyle: 'italic', color: '#111', padding: [9, 0, 0, 0] },
  t: { fontFamily: FONT, fontSize: 21, color: '#111' }
};
const legends = peNames.map((n, i) => ({
  data: [n], left: 63 + 164 * i, top: 466, padding: 0,
  itemWidth: 44, itemHeight: 14, selectedMode: false,
  formatter: name => '{p|p}{e|e}{t| = ' + name + '}',
  lineStyle: { width: 2 },
  itemStyle: { color: 'transparent', borderWidth: 0, opacity: 0 },
  textStyle: { rich: legendRich, padding: [0, 0, 0, 6] }
}));

const chart = echarts.init(document.getElementById('chart'));
chart.setOption({
  animation: false,
  backgroundColor: '#fff',
  grid: grids,
  xAxis: xAxes,
  yAxis: yAxes,
  legend: legends,
  graphic: graphics,
  series: series
});
</script>
</body>
</html>
